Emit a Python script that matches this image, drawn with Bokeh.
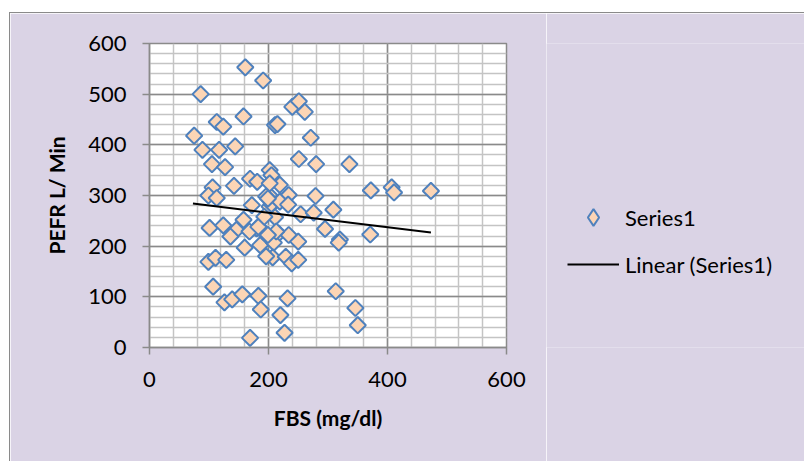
import numpy as np
from bokeh.plotting import figure
from bokeh.layouts import row
from bokeh.models import Range1d, FixedTicker, Legend, LegendItem
from bokeh.embed import file_html
from bokeh.resources import INLINE

# FBS (mg/dl) and PEFR (L/min) values
fbs = [161, 191, 86, 158, 113, 124, 211, 215, 240, 251, 261, 271, 75, 144, 89, 117,
       105, 127, 251, 280, 336, 372, 407, 411, 473, 106, 142, 169, 181, 202, 205, 219,
       234, 201, 279, 99, 113, 309, 172, 202, 211, 254, 276, 295, 320, 318, 371, 158,
       180, 217, 234, 250, 186, 209, 160, 207, 229, 239, 250, 101, 124, 146, 136, 99,
       111, 129, 107, 126, 139, 156, 183, 187, 169, 232, 220, 227, 313, 346, 350, 196,
       205, 219, 233, 191, 213, 168, 183, 193, 199, 196, 199, 202]
pefr = [553, 527, 500, 456, 445, 436, 439, 441, 475, 486, 465, 414, 418, 397, 390, 390,
        362, 356, 372, 362, 362, 310, 316, 306, 309, 316, 319, 333, 327, 350, 340, 321,
        301, 301, 299, 300, 295, 272, 281, 278, 257, 263, 266, 234, 213, 207, 223, 252,
        235, 225, 222, 209, 202, 207, 197, 178, 179, 166, 173, 236, 241, 232, 219, 169,
        177, 173, 120, 89, 95, 105, 102, 75, 19, 97, 64, 29, 111, 78, 44, 298,
        283, 288, 282, 229, 229, 229, 238, 258, 222, 180, 294, 324]

# Linear trend line end points as drawn
trend_x = [73, 473]
trend_y = [284, 227]

x_ticks = [0, 200, 400, 600]
x_minor = list(range(0, 601, 40))
y_ticks = [0, 100, 200, 300, 400, 500, 600]
y_minor = list(range(0, 601, 20))

FONT = "Lato"
MAJOR = "#8A8A8A"
MINOR = "#C4C4C4"
BG = "#DAD3E5"
PT_FILL = "#FCD5B5"
PT_LINE = "#4F81BD"

p = figure(width=536, height=449,
           x_range=Range1d(0, 600), y_range=Range1d(0, 600),
           output_backend="svg", toolbar_location=None,
           min_border_left=139, min_border_right=40,
           min_border_top=30, min_border_bottom=115,
           background_fill_color="white", border_fill_color=BG,
           outline_line_color=MAJOR, outline_line_width=1.5)

xt = FixedTicker(ticks=x_ticks, minor_ticks=x_minor)
yt = FixedTicker(ticks=y_ticks, minor_ticks=y_minor)
p.xaxis.ticker = xt
p.yaxis.ticker = yt
p.xgrid.ticker = xt
p.ygrid.ticker = yt

for g in (p.xgrid, p.ygrid):
    g.grid_line_color = MAJOR
    g.grid_line_width = 1.5
    g.minor_grid_line_color = MINOR
    g.minor_grid_line_width = 1.5

for ax in (p.xaxis, p.yaxis):
    ax.axis_line_color = MAJOR
    ax.axis_line_width = 1.5
    ax.major_tick_line_color = MAJOR
    ax.major_tick_line_width = 1.5
    ax.major_tick_out = 7
    ax.major_tick_in = 0
    ax.minor_tick_line_color = None
    ax.major_label_text_font = FONT
    ax.major_label_text_font_size = "22px"
    ax.major_label_text_color = "black"
    ax.axis_label_text_font = FONT
    ax.axis_label_text_font_size = "21px"
    ax.axis_label_text_font_style = "bold"
    ax.axis_label_text_color = "black"

p.xaxis.axis_label = "FBS (mg/dl)"
p.yaxis.axis_label = "PEFR L/ Min"
p.xaxis.major_label_standoff = 17
p.yaxis.major_label_standoff = 16
p.xaxis.axis_label_standoff = 15
p.yaxis.axis_label_standoff = 16

p.scatter(fbs, pefr, marker="square", angle=np.pi / 4, size=11.5,
          fill_color=PT_FILL, line_color=PT_LINE, line_width=2)
p.line(trend_x, trend_y, line_color="black", line_width=2)

# Legend panel to the right of the plot (key glyphs only, nothing plotted)
pl = figure(width=259, height=449, x_range=Range1d(0, 1), y_range=Range1d(0, 1),
            output_backend="svg", toolbar_location=None,
            x_axis_type=None, y_axis_type=None,
            min_border=0, min_border_left=0, min_border_right=0,
            min_border_top=0, min_border_bottom=0,
            background_fill_color=BG, border_fill_color=BG,
            outline_line_color=None)
pl.grid.visible = False
k1 = pl.scatter(x=[np.nan], y=[np.nan], marker="diamond", fill_color=PT_FILL,
                line_color=PT_LINE, line_width=2)
k2 = pl.line(x=[np.nan, np.nan], y=[np.nan, np.nan], line_color="black", line_width=2)
legend = Legend(items=[LegendItem(label="Series1", renderers=[k1]),
                       LegendItem(label="Linear (Series1)", renderers=[k2])],
                location=(21, 62), padding=0, margin=0, spacing=5,
                glyph_width=52, glyph_height=42, label_height=42,
                label_standoff=6,
                label_text_font=FONT, label_text_font_size="22px",
                label_text_color="black",
                border_line_color=None, background_fill_alpha=0)
pl.add_layout(legend)

layout = row(p, pl, spacing=0)
layout.margin = (12, 0, 0, 9)
layout.styles = {"border-left": "1px solid #8A8A8A", "border-top": "1px solid #8A8A8A"}

open("out.html", "w").write(file_html(layout, INLINE))
